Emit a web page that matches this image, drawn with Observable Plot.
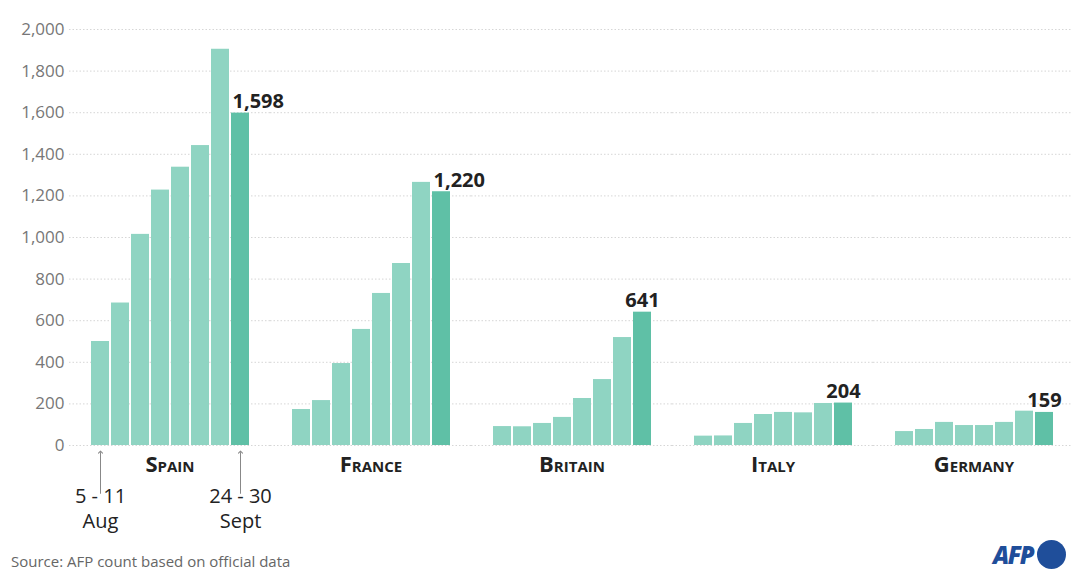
<!DOCTYPE html>
<html>
<head>
<meta charset="utf-8">
<script src="https://cdn.jsdelivr.net/npm/d3@7"></script>
<script src="https://cdn.jsdelivr.net/npm/@observablehq/plot@0.6"></script>
<style>
  html, body { margin: 0; padding: 0; background: #fff; }
  #wrap { position: relative; width: 1072px; height: 571px; overflow: hidden; font-family: "Open Sans", sans-serif; }
  #source { position: absolute; left: 11px; top: 551px; font-size: 15px; color: #666; }
  #logo { position: absolute; left: 993px; top: 540px; height: 29px; display: flex; align-items: center; }
  #logo span { font-family: "Open Sans", sans-serif; font-weight: 800; font-style: italic; font-size: 24px; line-height: 29px; color: #1f4e9a; letter-spacing: -1.5px; }
  #logo i { display: inline-block; width: 29px; height: 29px; border-radius: 50%; background: #1f4e9a; margin-left: 4px; }
  g[aria-label="country-label"] text { letter-spacing: 1.5px; }
</style>
</head>
<body>
<div id="wrap">
  <div id="chart"></div>
  <div id="source">Source: AFP count based on official data</div>
  <div id="logo"><span>AFP</span><i></i></div>
</div>
<script>
const countries = ["Spain", "France", "Britain", "Italy", "Germany"];
const weeks = [1, 2, 3, 4, 5, 6, 7, 8];
const spain   = [500, 685, 1015, 1228, 1338, 1442, 1905, 1598];
const france  = [173, 216, 394, 558, 731, 875, 1265, 1220];
const britain = [91, 90, 106, 135, 226, 317, 519, 641];
const italy   = [45, 46, 106, 149, 159, 157, 202, 204];
const germany = [67, 77, 111, 96, 96, 111, 165, 159];
const yTicks = [0, 200, 400, 600, 800, 1000, 1200, 1400, 1600, 1800, 2000];
const weekLabels = [{country: "Spain", week: 1, label: "5 - 11\nAug"}, {country: "Spain", week: 8, label: "24 - 30\nSept"}];
const arrowFrom = -232, arrowTo = -32;

const series = [spain, france, britain, italy, germany];
const rows = [];
countries.forEach((c, i) => series[i].forEach((v, j) => rows.push({country: c, week: weeks[j], value: v, last: j === weeks.length - 1})));
const lastRows = rows.filter(d => d.last);
const shifted = lastRows.filter(d => d.country === "Spain" || d.country === "France");
const centered = lastRows.filter(d => !(d.country === "Spain" || d.country === "France"));
const gridRows = [];
countries.forEach(c => yTicks.forEach(t => gridRows.push({country: c, tick: t})));

const chart = Plot.plot({
  width: 1072,
  height: 540,
  marginTop: 29,
  marginBottom: 95,
  marginLeft: 88,
  marginRight: 17,
  style: {fontFamily: "Open Sans, sans-serif", background: "#fff", overflow: "visible"},
  fx: {domain: countries, paddingInner: 0.21, paddingOuter: 0, axis: null},
  x: {domain: weeks, paddingInner: 0.1, paddingOuter: 0, axis: null},
  y: {domain: [0, 2000], axis: null},
  marks: [
    Plot.ruleY(gridRows, {fx: "country", y: "tick", stroke: "#d6d6d6", strokeDasharray: "1.5,2", insetLeft: -21, insetRight: -21}),
    Plot.text(yTicks, {fx: () => "Spain", y: d => d, text: d => d3.format(",")(d), frameAnchor: "left", textAnchor: "end", dx: -26, fontSize: 17, fill: "#777"}),
    Plot.barY(rows, {fx: "country", x: "week", y: "value", fill: d => d.last ? "#5fc0a6" : "#8fd4c2"}),
    Plot.text(shifted, {fx: "country", x: "week", y: "value", text: d => d3.format(",")(d.value), textAnchor: "start", dx: -8, dy: -5, lineAnchor: "bottom", fontSize: 20, fontWeight: "bold", fill: "#222"}),
    Plot.text(centered, {fx: "country", x: "week", y: "value", text: d => d3.format(",")(d.value), dy: -5, lineAnchor: "bottom", fontSize: 20, fontWeight: "bold", fill: "#222"}),
    Plot.text(countries, {fx: d => d, text: d => d, frameAnchor: "bottom", dy: 26, fontSize: 22, fontWeight: "bold", fontVariant: "small-caps", fill: "#222", ariaLabel: "country-label"}),
    Plot.link(weekLabels, {fx: "country", x1: "week", x2: "week", y1: () => arrowFrom, y2: () => arrowTo, stroke: "#888", strokeWidth: 1, markerEnd: "arrow"}),
    Plot.text(weekLabels, {fx: "country", x: "week", text: "label", frameAnchor: "bottom", dy: 40, lineAnchor: "top", lineHeight: 1.25, fontSize: 20, fill: "#222"})
  ]
});
document.getElementById("chart").appendChild(chart);
</script>
</body>
</html>
